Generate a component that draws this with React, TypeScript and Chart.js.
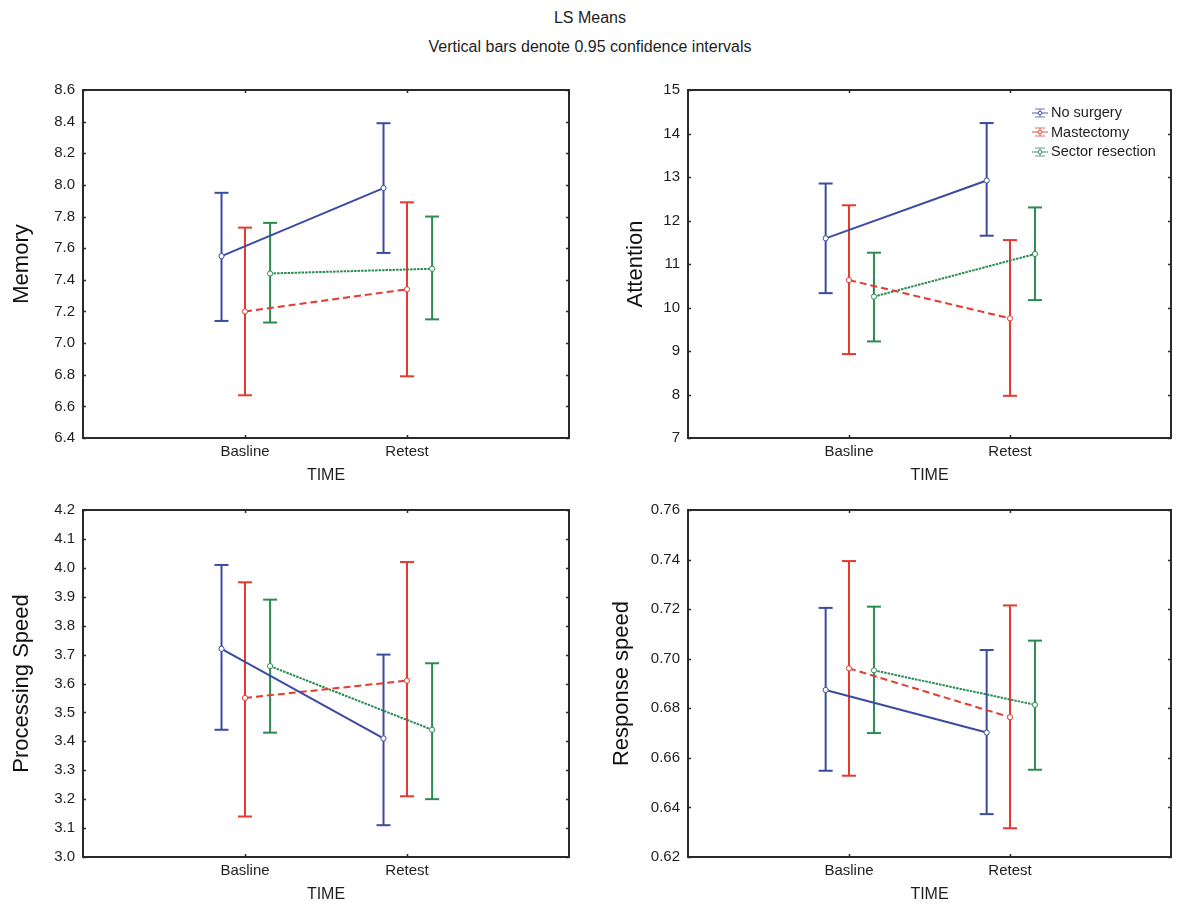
import React, { useEffect, useRef } from 'react';
import { Chart, registerables } from 'chart.js';

Chart.register(...registerables);

// ---------- data ----------
const TIME_LABELS = ['Basline', 'Retest'];
const GROUPS = ['No surgery', 'Mastectomy', 'Sector resection'];

const MEMORY_TICKS = [6.4, 6.6, 6.8, 7.0, 7.2, 7.4, 7.6, 7.8, 8.0, 8.2, 8.4, 8.6];
const MEMORY_MEAN = [[7.55, 7.98], [7.20, 7.34], [7.44, 7.47]];
const MEMORY_LOW = [[7.14, 7.57], [6.67, 6.79], [7.13, 7.15]];
const MEMORY_HIGH = [[7.95, 8.39], [7.73, 7.89], [7.76, 7.80]];

const ATTENTION_TICKS = [7, 8, 9, 10, 11, 12, 13, 14, 15];
const ATTENTION_MEAN = [[11.59, 12.92], [10.63, 9.75], [10.25, 11.23]];
const ATTENTION_LOW = [[10.33, 11.65], [8.93, 7.97], [9.22, 10.17]];
const ATTENTION_HIGH = [[12.85, 14.24], [12.35, 11.55], [11.26, 12.30]];

const PROCESSING_TICKS = [3.0, 3.1, 3.2, 3.3, 3.4, 3.5, 3.6, 3.7, 3.8, 3.9, 4.0, 4.1, 4.2];
const PROCESSING_MEAN = [[3.72, 3.41], [3.55, 3.61], [3.66, 3.44]];
const PROCESSING_LOW = [[3.44, 3.11], [3.14, 3.21], [3.43, 3.20]];
const PROCESSING_HIGH = [[4.01, 3.70], [3.95, 4.02], [3.89, 3.67]];

const RESPONSE_TICKS = [0.62, 0.64, 0.66, 0.68, 0.70, 0.72, 0.74, 0.76];
const RESPONSE_MEAN = [[0.6874, 0.6702], [0.6961, 0.6764], [0.6953, 0.6814]];
const RESPONSE_LOW = [[0.6548, 0.6373], [0.6528, 0.6316], [0.6700, 0.6552]];
const RESPONSE_HIGH = [[0.7205, 0.7035], [0.7394, 0.7215], [0.7210, 0.7073]];

// ---------- styles ----------
const COLORS = ['#3b4aa2', '#e6392f', '#2b8a52'];
const DASHES = [[], [7, 4], [2.5, 1]];
const DODGE = [-0.145, 0, 0.155];
const FONT = "'Liberation Sans', Arial, sans-serif";
const TEXT = '#1e1e1e';

const framePlugin = {
  id: 'frame',
  beforeDatasetsDraw(chart: any) {
    const { ctx, chartArea: a, scales } = chart;
    ctx.save();
    ctx.strokeStyle = '#2a2a2a';
    ctx.lineWidth = 2;
    ctx.strokeRect(a.left, a.top, a.right - a.left, a.bottom - a.top);
    ctx.lineWidth = 1.5;
    ctx.beginPath();
    scales.y.ticks.forEach((t: any) => {
      const y = Math.round(scales.y.getPixelForValue(t.value)) + 0.5;
      ctx.moveTo(a.left, y); ctx.lineTo(a.left + 3, y);
      ctx.moveTo(a.right, y); ctx.lineTo(a.right - 3, y);
    });
    scales.x.ticks.forEach((t: any) => {
      const x = Math.round(scales.x.getPixelForValue(t.value)) + 0.5;
      ctx.moveTo(x, a.top); ctx.lineTo(x, a.top + 3);
      ctx.moveTo(x, a.bottom); ctx.lineTo(x, a.bottom - 3);
    });
    ctx.stroke();
    ctx.restore();
  },
};

type PanelCfg = {
  left: number; top: number; width: number; height: number;
  yAxisW: number; padRight: number; xAxisH: number;
  yTitle: string; yTitlePad: number; xTitlePad: number; dec: number;
  ticks: number[]; mean: number[][]; low: number[][]; high: number[][];
};

const PANELS: PanelCfg[] = [
  { left: 0, top: 70, width: 590, height: 420, yAxisW: 83, padRight: 21, xAxisH: 52, yTitle: 'Memory', yTitlePad: 9, xTitlePad: 5, dec: 1, ticks: MEMORY_TICKS, mean: MEMORY_MEAN, low: MEMORY_LOW, high: MEMORY_HIGH },
  { left: 590, top: 70, width: 590, height: 420, yAxisW: 98, padRight: 2, xAxisH: 52, yTitle: 'Attention', yTitlePad: 33, xTitlePad: 5, dec: 0, ticks: ATTENTION_TICKS, mean: ATTENTION_MEAN, low: ATTENTION_LOW, high: ATTENTION_HIGH },
  { left: 0, top: 490, width: 590, height: 415, yAxisW: 83, padRight: 21, xAxisH: 48, yTitle: 'Processing Speed', yTitlePad: 9, xTitlePad: 1, dec: 1, ticks: PROCESSING_TICKS, mean: PROCESSING_MEAN, low: PROCESSING_LOW, high: PROCESSING_HIGH },
  { left: 590, top: 490, width: 590, height: 415, yAxisW: 98, padRight: 2, xAxisH: 48, yTitle: 'Response speed', yTitlePad: 19, xTitlePad: 1, dec: 2, ticks: RESPONSE_TICKS, mean: RESPONSE_MEAN, low: RESPONSE_LOW, high: RESPONSE_HIGH },
];

function Panel({ cfg }: { cfg: PanelCfg }) {
  const ref = useRef<HTMLCanvasElement | null>(null);
  useEffect(() => {
    const datasets: any[] = [];
    GROUPS.forEach((g, s) => {
      datasets.push({
        label: g,
        data: TIME_LABELS.map((_, t) => ({ x: t + 1 + DODGE[s], y: cfg.mean[s][t] })),
        borderColor: COLORS[s],
        borderWidth: 2,
        borderDash: DASHES[s],
        pointRadius: 2.6,
        pointBackgroundColor: '#ffffff',
        pointBorderColor: COLORS[s],
        pointBorderWidth: 1,
        order: 0,
      });
    });
    GROUPS.forEach((g, s) => {
      TIME_LABELS.forEach((_, t) => {
        const x = t + 1 + DODGE[s];
        datasets.push({
          label: g + ' CI',
          data: [{ x, y: cfg.low[s][t] }, { x, y: cfg.high[s][t] }],
          borderColor: COLORS[s],
          borderWidth: 2,
          pointStyle: 'line',
          pointRadius: 7,
          pointBorderColor: COLORS[s],
          pointBorderWidth: 2,
          order: 1,
        });
      });
    });

    const chart = new Chart(ref.current as HTMLCanvasElement, {
      type: 'line',
      data: { datasets },
      plugins: [framePlugin],
      options: {
        responsive: false,
        animation: false,
        events: [],
        layout: { padding: { top: 20, right: cfg.padRight, left: 0, bottom: 0 } },
        plugins: { legend: { display: false }, tooltip: { enabled: false } },
        scales: {
          x: {
            type: 'linear',
            min: 0,
            max: 3,
            afterBuildTicks: (sc: any) => { sc.ticks = TIME_LABELS.map((_, i) => ({ value: i + 1 })); },
            afterFit: (sc: any) => { sc.height = cfg.xAxisH; },
            ticks: {
              callback: (v: any) => TIME_LABELS[Math.round(Number(v)) - 1] ?? '',
              font: { family: FONT, size: 15 },
              color: TEXT,
              padding: 5,
              maxRotation: 0,
              autoSkip: false,
            },
            grid: { display: false, drawTicks: false },
            border: { display: false },
            title: { display: true, text: 'TIME', color: TEXT, font: { family: FONT, size: 16 }, padding: { top: 0, bottom: cfg.xTitlePad } },
          },
          y: {
            type: 'linear',
            min: cfg.ticks[0],
            max: cfg.ticks[cfg.ticks.length - 1],
            afterBuildTicks: (sc: any) => { sc.ticks = cfg.ticks.map((v) => ({ value: v })); },
            afterFit: (sc: any) => { sc.width = cfg.yAxisW; },
            ticks: {
              callback: (v: any) => Number(v).toFixed(cfg.dec),
              font: { family: FONT, size: 15 },
              color: TEXT,
              padding: 8,
              autoSkip: false,
            },
            grid: { display: false, drawTicks: false },
            border: { display: false },
            title: { display: true, text: cfg.yTitle, color: '#111', font: { family: FONT, size: 22 }, padding: { top: cfg.yTitlePad, bottom: 0 } },
          },
        },
      } as any,
    });
    return () => chart.destroy();
  }, [cfg]);
  return (
    <canvas
      ref={ref}
      width={cfg.width}
      height={cfg.height}
      style={{ position: 'absolute', left: cfg.left, top: cfg.top, width: cfg.width, height: cfg.height }}
    />
  );
}

function LegendIcon({ color }: { color: string }) {
  return (
    <svg width="18" height="12" style={{ display: 'block', marginRight: 2 }}>
      <line x1="1" y1="6" x2="17" y2="6" stroke={color} strokeWidth="1.2" opacity="0.75" />
      <line x1="9" y1="2" x2="9" y2="10" stroke={color} strokeWidth="1" opacity="0.75" />
      <line x1="4" y1="2" x2="14" y2="2" stroke={color} strokeWidth="1" opacity="0.75" />
      <line x1="4" y1="10" x2="14" y2="10" stroke={color} strokeWidth="1" opacity="0.75" />
      <circle cx="9" cy="6" r="1.8" fill="#fff" stroke={color} strokeWidth="0.9" />
    </svg>
  );
}

export default function App() {
  return (
    <div style={{ position: 'absolute', left: 0, top: 0, width: 1180, height: 905, background: '#ffffff', fontFamily: FONT, color: TEXT, overflow: 'hidden' }}>
      <div style={{ position: 'absolute', left: 0, width: 1180, top: 8, textAlign: 'center', fontSize: 16, lineHeight: '20px' }}>LS Means</div>
      <div style={{ position: 'absolute', left: 0, width: 1180, top: 37, textAlign: 'center', fontSize: 16, lineHeight: '20px' }}>Vertical bars denote 0.95 confidence intervals</div>
      {PANELS.map((p, i) => <Panel key={i} cfg={p} />)}
      <div style={{ position: 'absolute', left: 1031, top: 103, fontSize: 14.5, lineHeight: '19.5px' }}>
        {GROUPS.map((g, s) => (
          <div key={g} style={{ display: 'flex', alignItems: 'center', whiteSpace: 'nowrap' }}>
            <LegendIcon color={COLORS[s]} />
            <span>{g}</span>
          </div>
        ))}
      </div>
    </div>
  );
}
